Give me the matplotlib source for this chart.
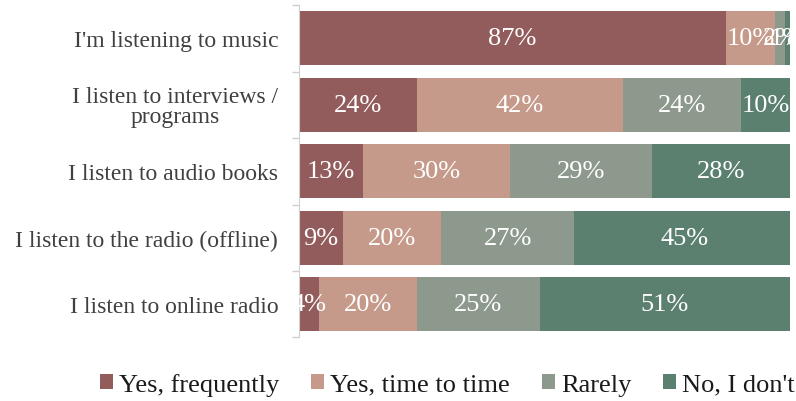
import matplotlib
matplotlib.use("Agg")
import matplotlib.pyplot as plt
import numpy as np

categories = [
    "I'm listening to music",
    "I listen to interviews /\nprograms",
    "I listen to audio books",
    "I listen to the radio (offline)",
    "I listen to online radio",
]
series_names = ["Yes, frequently", "Yes, time to time", "Rarely", "No, I don't"]
frequently = [87, 24, 13, 9, 4]
time_to_time = [10, 42, 30, 20, 20]
rarely = [2, 24, 29, 27, 25]
dont = [1, 10, 28, 45, 51]
colors = ["#935c5c", "#c69a8a", "#8e998e", "#5b806f"]

plt.rcParams["font.family"] = ["Liberation Serif", "DejaVu Serif"]

fig = plt.figure(figsize=(7.96, 4.02), dpi=100)
ax = fig.add_axes([0.3756, 0.158, 0.6168, 0.827])

y = np.arange(len(categories))
left = np.zeros(len(categories))
for name, vals, c in zip(series_names, [frequently, time_to_time, rarely, dont], colors):
    vals = np.array(vals, dtype=float)
    ax.barh(y, vals, left=left, height=0.81, color=c, label=name)
    for yi, l, v in zip(y, left, vals):
        ax.text(l + v / 2, yi, f"{int(v)}%", ha="center", va="center",
                color="white", fontsize=19, clip_on=False)
    left += vals

ax.set_xlim(0, 100)
ax.set_ylim(len(categories) - 0.5, -0.5)
ax.set_yticks(y)
ax.set_yticklabels(categories, fontsize=17, color="#404040", linespacing=0.95)
for t in ax.get_yticklabels():
    t.set_multialignment("center")
ax.tick_params(axis="y", which="major", length=0, pad=15)
ax.set_yticks(np.arange(-0.5, len(categories)), minor=True)
ax.tick_params(axis="y", which="minor", length=5, color="#d0d0d0", width=1)
ax.set_xticks([])
for s in ["top", "right", "bottom"]:
    ax.spines[s].set_visible(False)
ax.spines["left"].set_color("#d0d0d0")

handles, labels = ax.get_legend_handles_labels()
fig.legend(handles, labels, loc="center", ncol=4, bbox_to_anchor=(0.562, 0.042),
           frameon=False, fontsize=19, handlelength=0.5, handleheight=0.5,
           handletextpad=0.23, columnspacing=1.2, labelcolor="#1a1a1a",
           borderpad=0, borderaxespad=0)

plt.savefig("out.png", dpi=100)
plt.close()
